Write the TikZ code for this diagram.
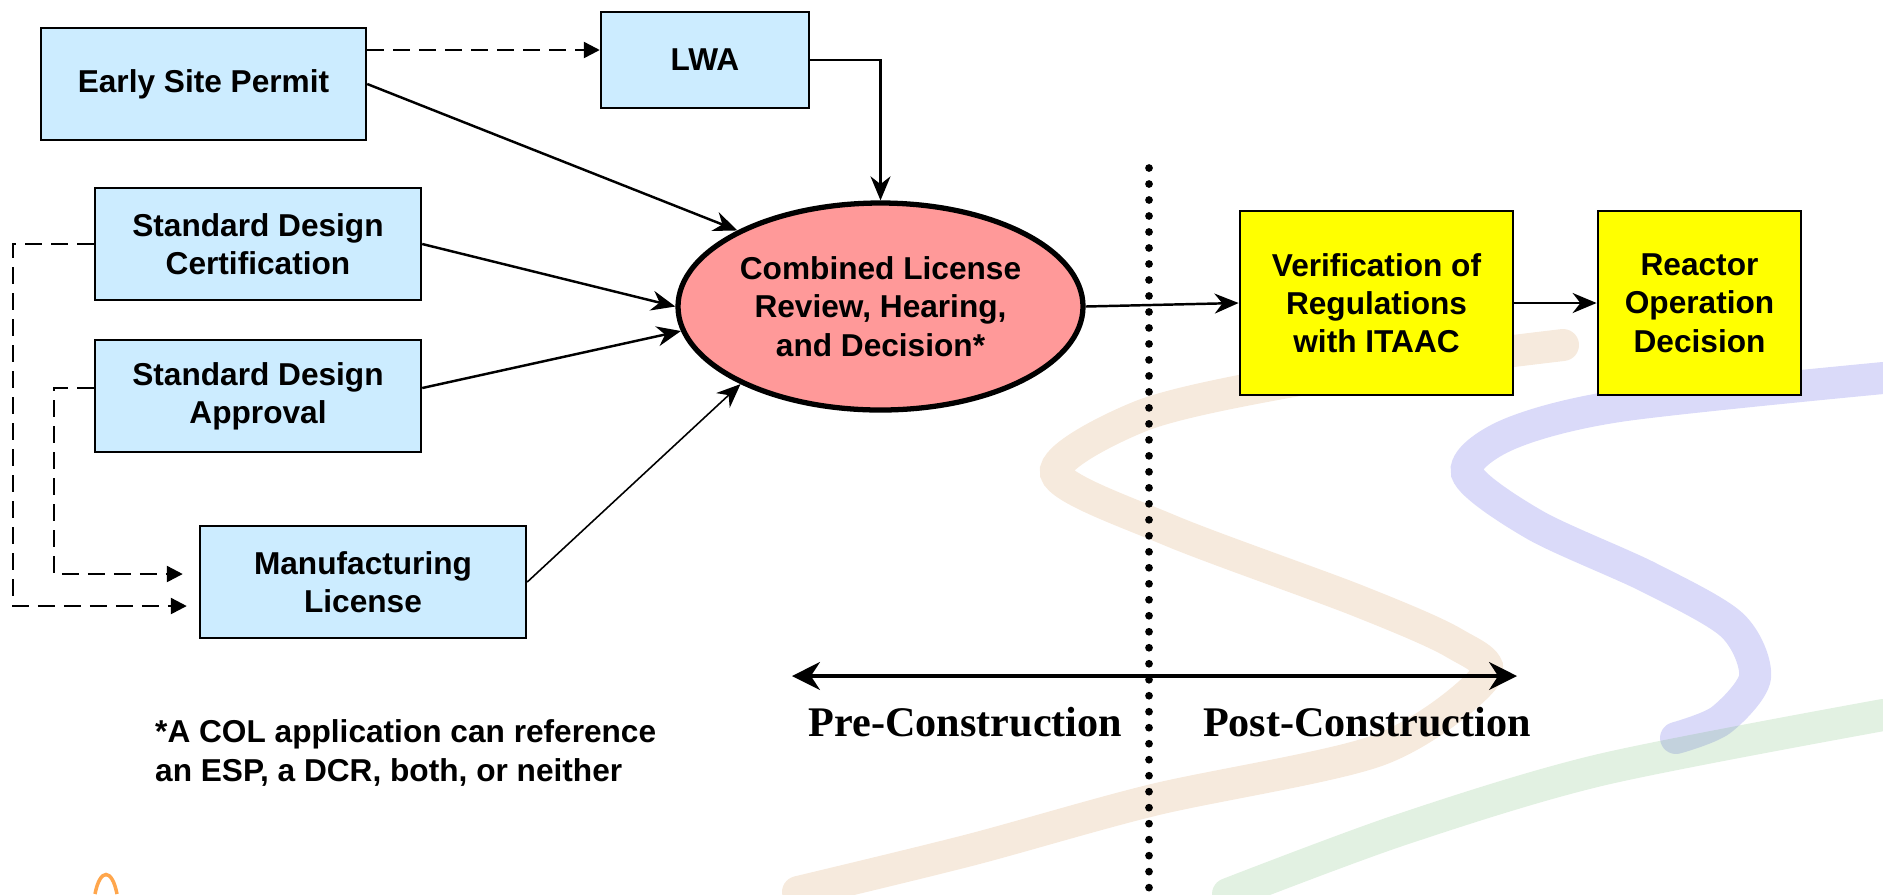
\documentclass[tikz,border=0pt]{standalone}
\usepackage{fontspec}
\setmainfont{Liberation Sans}
\newfontfamily\labelfont{Liberation Serif}
\usepackage{tikz}
\usetikzlibrary{positioning,arrows.meta,shapes.geometric}
\definecolor{permitblue}{HTML}{CCECFF}
\definecolor{reviewpink}{HTML}{FF9999}
\definecolor{postyellow}{HTML}{FFFF00}
\tikzset{
  flowarrow/.style={-{Stealth[length=2.4mm,width=2mm]}, line width=0.7pt},
  dasharrow/.style={-{Triangle[length=1.6mm,width=1.6mm]}, dash pattern=on 1.7mm off 0.9mm, line width=0.7pt},
  permitbox/.style={draw, line width=0.7pt, fill=permitblue, minimum width=3.26cm, minimum height=1.12cm, align=center, font=\fontsize{9}{10.9}\selectfont\bfseries},
  postbox/.style={draw, line width=0.8pt, fill=postyellow, minimum height=1.84cm, align=center, font=\fontsize{9}{10.9}\selectfont\bfseries},
  reviewnode/.style={draw, ellipse, line width=1.5pt, fill=reviewpink, inner sep=0pt, minimum width=4.05cm, minimum height=2.07cm, align=center, font=\fontsize{9}{10.9}\selectfont\bfseries},
  phaselabel/.style={font=\labelfont\fontsize{12}{14}\selectfont\bfseries, inner sep=0pt},
  swoosh/.style={line width=0.32cm, line cap=round, opacity=0.17}
}

\begin{document}
\begin{tikzpicture}
  \useasboundingbox (0,0) rectangle (18.83,-8.94);
  \draw[swoosh, color=brown!80!orange] plot[smooth] coordinates {(7.98,-8.92) (9.7,-8.5) (11.53,-8.0) (13.79,-7.5) (14.85,-6.77) (14.54,-6.43) (13.56,-6.0) (11.69,-5.30) (10.56,-4.73) (11.41,-4.16) (12.82,-3.83) (14.5,-3.59) (15.63,-3.45)};
  \draw[swoosh, color=blue!70!gray] plot[smooth] coordinates {(18.83,-3.78) (16.19,-4.06) (15.07,-4.35) (14.67,-4.73) (15.35,-5.25) (16.48,-5.77) (17.32,-6.25) (17.55,-6.77) (17.21,-7.20) (16.76,-7.38)};
  \draw[swoosh, color=green!35!gray] plot[smooth] coordinates {(12.28,-8.94) (14.0,-8.3) (16.0,-7.7) (18.83,-7.15)};
  \draw[line width=1pt, color=orange!70] (0.95,-8.94) .. controls (1.0,-8.68) and (1.12,-8.68) .. (1.17,-8.94);

  \node[permitbox, minimum width=3.25cm] (esp) at (2.035,-0.84) {Early Site Permit};
  \node[permitbox, minimum width=2.08cm, minimum height=0.96cm] (lwa) at (7.05,-0.60) {LWA};
  \node[permitbox] (sdc) at (2.58,-2.44) {Standard Design\\Certification};
  \node[permitbox] (sda) at (2.58,-3.96) {Standard Design\\Approval};
  \node[permitbox] (ml) at (3.63,-5.82) {Manufacturing\\License};
  \node[reviewnode] (col) at (8.805,-3.065) {Combined License\\Review, Hearing,\\and Decision*};
  \node[postbox, minimum width=2.73cm] (verif) at (13.765,-3.03) {Verification of\\Regulations\\with ITAAC};
  \node[postbox, minimum width=2.03cm] (rod) at (16.995,-3.03) {Reactor\\Operation\\Decision};
  \node[anchor=west, align=left, inner sep=0pt, font=\fontsize{9}{11}\selectfont\bfseries] (note) at (1.545,-7.53) {*A COL application can reference\\an ESP, a DCR, both, or neither};
  \node[phaselabel] (pre) at (9.655,-7.22) {Pre-Construction};
  \node[phaselabel] (post) at (13.67,-7.22) {Post-Construction};

  \coordinate (lwain) at ([yshift=0.1cm]lwa.west);
  \coordinate (mlup) at ([yshift=0.08cm]ml.west);
  \coordinate (mllow) at ([yshift=-0.24cm]ml.west);
  \coordinate (divtop) at (11.49,-1.68);
  \coordinate (divbot) at (11.49,-8.94);
  \coordinate (preend) at (7.92,-6.76);
  \coordinate (postend) at (15.17,-6.76);

  \draw[dasharrow] (esp.east |- lwain) -- (lwain);
  \draw[dasharrow, shorten >=1.2mm] (sdc.west) -- ++(-0.81,0) |- (mllow);
  \draw[dasharrow, shorten >=1.6mm] ([yshift=0.08cm]sda.west) -- ++(-0.4,0) |- (mlup);
  \draw[flowarrow] (esp.east) -- (col.152);
  \draw[flowarrow] (lwa.east) -| (col.north);
  \draw[flowarrow] (sdc.east) -- (col.west);
  \draw[flowarrow] ([yshift=0.08cm]sda.east) -- (col.187);
  \draw[flowarrow, line width=0.45pt] (ml.east) -- (col.209);
  \draw[flowarrow] (col.east) -- (verif.west);
  \draw[flowarrow] (verif.east) -- (rod.west);
  \draw[line width=2.2pt, line cap=round, dash pattern=on 0pt off 4.55pt] (divtop) -- (divbot);
  \draw[{Stealth[length=2.8mm,width=2.8mm]}-{Stealth[length=2.8mm,width=2.8mm]}, line width=0.9pt] (preend) -- (postend);
\end{tikzpicture}
\end{document}
